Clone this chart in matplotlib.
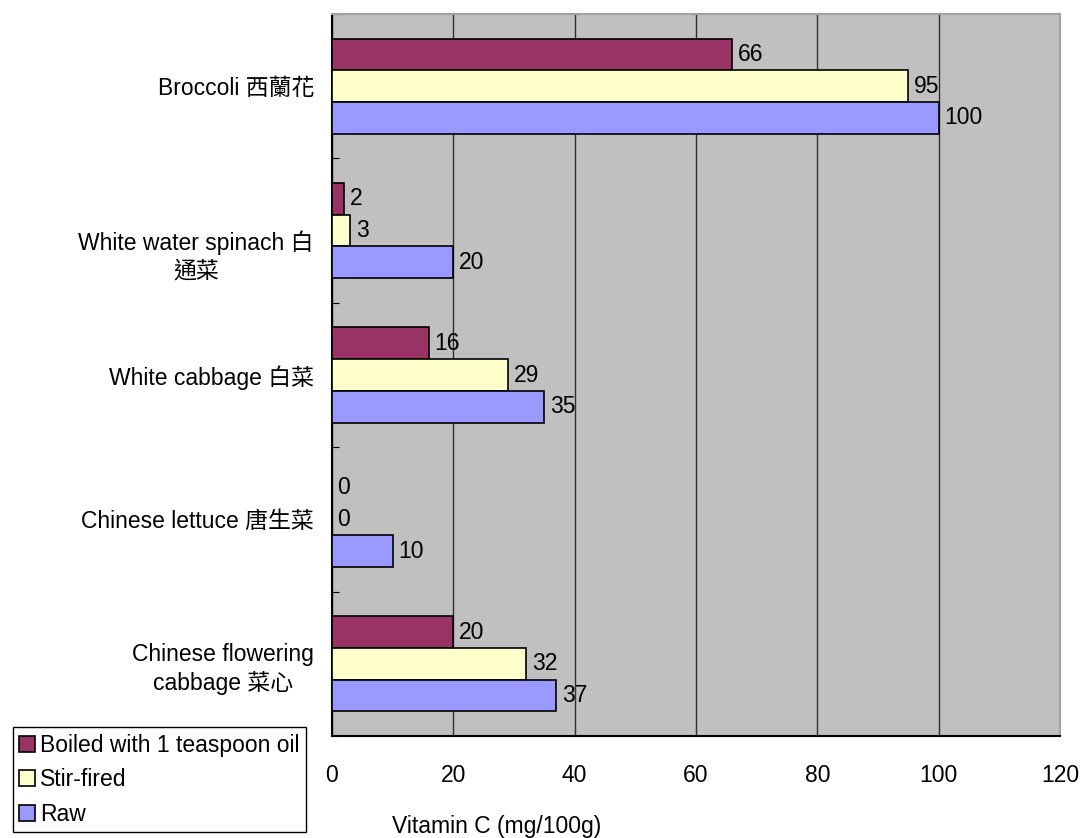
import matplotlib.pyplot as plt
import numpy as np

plt.rcParams['font.family'] = ['Liberation Sans', 'Noto Sans CJK TC', 'DejaVu Sans']

# vegetables, top to bottom
veg = ['Broccoli 西蘭花', 'White water spinach 白\n通菜', 'White cabbage 白菜',
       'Chinese lettuce 唐生菜', 'Chinese flowering\ncabbage 菜心']
boiled = [66, 2, 16, 0, 20]
stir_fried = [95, 3, 29, 0, 32]
raw = [100, 20, 35, 10, 37]

series = [('Boiled with 1 teaspoon oil', boiled, '#993366'),
          ('Stir-fired', stir_fried, '#FFFFCC'),
          ('Raw', raw, '#9999FF')]

FS = 16.5

fig = plt.figure(figsize=(10.83, 8.38), dpi=100)
ax = fig.add_axes([332 / 1083, 1 - 736 / 838, 728 / 1083, 722 / 838])
ax.set_facecolor('#C0C0C0')

n = len(veg)
centers = np.arange(n)[::-1]  # Broccoli on top
h = 0.22
handles = []
for k, (name, vals, col) in enumerate(series):
    ypos = centers + (1 - k) * h
    bars = ax.barh(ypos, vals, height=h, color=col, edgecolor='black',
                   linewidth=1.2, label=name, zorder=3)
    ax.bar_label(bars, padding=4, fontsize=FS, zorder=4)
    handles.append(bars)

ax.set_xlim(0, 120)
ax.set_ylim(-0.5, n - 0.5)
ax.set_xticks(np.arange(0, 121, 20))
ax.tick_params(axis='x', length=0, pad=20, labelsize=FS)
ax.xaxis.grid(True, color='#303030', linewidth=1, zorder=1)
ax.set_axisbelow(True)

# boundary ticks on the left, labels at centers
ax.set_yticks(np.arange(n + 1) - 0.5)
ax.set_yticklabels([])
ax.tick_params(axis='y', which='major', direction='in', length=5, color='black')
ax.set_yticks(centers, minor=True)
ax.set_yticklabels(veg, minor=True, fontsize=FS)
ax.tick_params(axis='y', which='minor', length=0, pad=13)
for t in ax.get_yticklabels(minor=True):
    t.set_multialignment('center')
    t.set_linespacing(1.25)
    if t.get_text().startswith('White water'):
        t.set_verticalalignment('top')

for s in ['left', 'bottom']:
    ax.spines[s].set_color('black')
    ax.spines[s].set_linewidth(1.5)
for s in ['top', 'right']:
    ax.spines[s].set_color('#A0A0A0')
    ax.spines[s].set_linewidth(1.5)

fig.text(497 / 1083, 1 - 826 / 838, 'Vitamin C (mg/100g)', fontsize=FS,
         ha='center', va='center')

leg = fig.legend(handles=handles, loc='lower left',
                 bbox_to_anchor=(13 / 1083, 6 / 838), fontsize=FS,
                 handlelength=0.7, handleheight=0.7, handletextpad=0.2,
                 labelspacing=0.5, borderpad=0.28, borderaxespad=0,
                 fancybox=False, framealpha=1, edgecolor='black')
leg.get_frame().set_linewidth(1)

fig.savefig('out.png', dpi=100)
